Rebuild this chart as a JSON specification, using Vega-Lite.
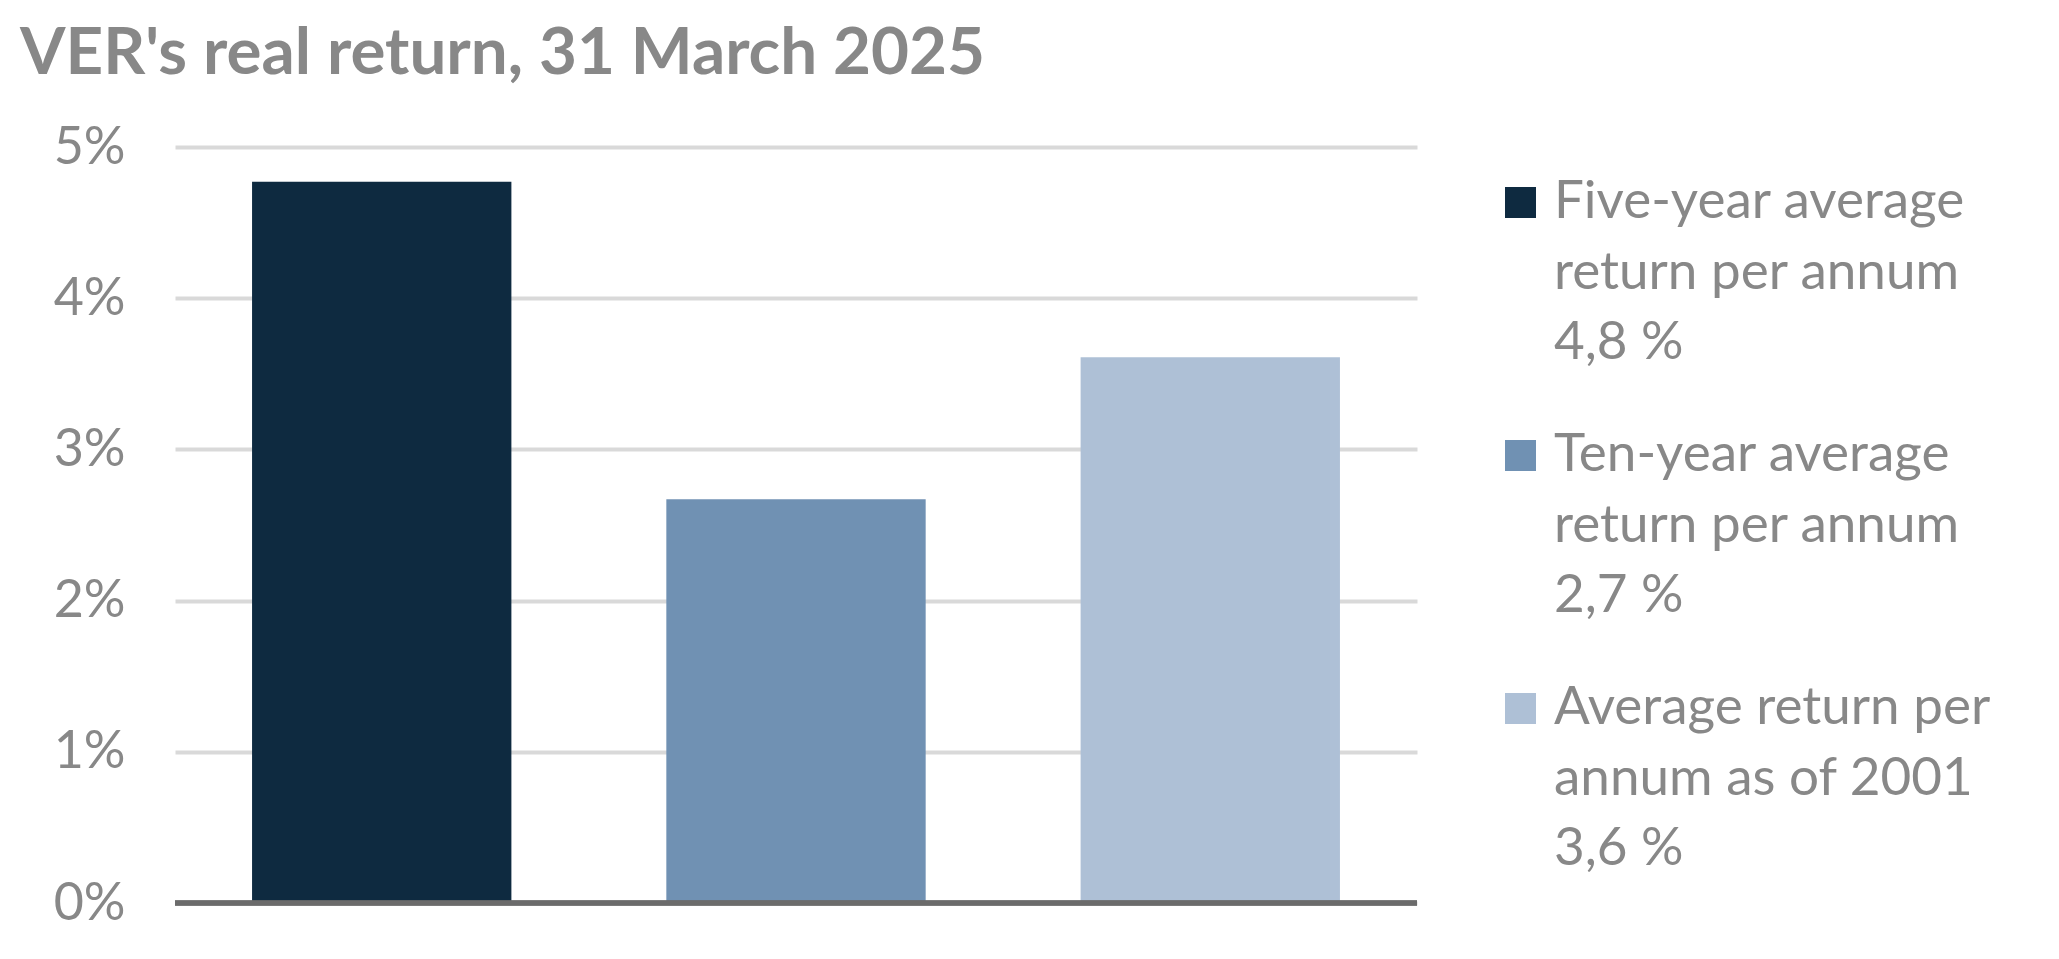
{
  "$schema": "https://vega.github.io/schema/vega-lite/v6.json",
  "description": "VER's real return, 31 March 2025: five-year, ten-year and since-2001 average real return per annum.",
  "autosize": {"type": "none"},
  "padding": {"left": 175, "top": 147, "right": 642, "bottom": 56},
  "width": 1242,
  "height": 756,
  "title": {
    "text": "VER's real return, 31 March 2025",
    "anchor": "start",
    "frame": "group",
    "dx": -155,
    "font": "Lato",
    "fontSize": 65.5,
    "fontWeight": "bold",
    "color": "#888888",
    "baseline": "alphabetic",
    "offset": -18
  },
  "data": {
    "values": [
      {"series": "Five-year average|return per annum|4,8 %", "value": 4.77},
      {"series": "Ten-year average|return per annum|2,7 %", "value": 2.67},
      {"series": "Average return per|annum as of 2001|3,6 %", "value": 3.61}
    ]
  },
  "layer": [
    {
      "mark": {"type": "bar"},
      "encoding": {
        "x": {
          "field": "series",
          "type": "nominal",
          "sort": null,
          "axis": null,
          "scale": {"paddingInner": 0.374, "paddingOuter": 0.186}
        },
        "y": {
          "field": "value",
          "type": "quantitative",
          "scale": {"domain": [0, 5], "nice": false},
          "axis": {
            "values": [0, 1, 2, 3, 4, 5],
            "labelExpr": "datum.value + '%'",
            "title": null,
            "ticks": false,
            "domain": false,
            "labelFont": "Lato",
            "labelFontSize": 52,
            "labelColor": "#888888",
            "labelPadding": 50,
            "gridColor": "#D9D9D9",
            "gridWidth": 4
          }
        },
        "color": {
          "field": "series",
          "type": "nominal",
          "scale": {
            "domain": [
              "Five-year average|return per annum|4,8 %",
              "Ten-year average|return per annum|2,7 %",
              "Average return per|annum as of 2001|3,6 %"
            ],
            "range": ["#0E2A40", "#7091B3", "#AEC0D6"]
          },
          "legend": {
            "orient": "none",
            "legendX": 1319,
            "legendY": 29,
            "title": null,
            "padding": 0,
            "symbolType": "square",
            "symbolSize": 961,
            "symbolStrokeWidth": 0,
            "labelFont": "Lato",
            "labelFontSize": 53,
            "labelColor": "#888888",
            "labelBaseline": "alphabetic",
            "labelOffset": 7,
            "labelLimit": 700,
            "rowPadding": 59,
            "labelExpr": "split(datum.label, '|')",
            "encode": {
              "labels": {"update": {"dy": {"value": 15.5}, "lineHeight": {"value": 70.5}}}
            }
          }
        }
      }
    },
    {
      "mark": {"type": "rule", "color": "#6B6B6B", "strokeWidth": 5},
      "encoding": {"y": {"datum": 0}}
    }
  ],
  "config": {
    "view": {"stroke": null},
    "font": "Lato"
  }
}
